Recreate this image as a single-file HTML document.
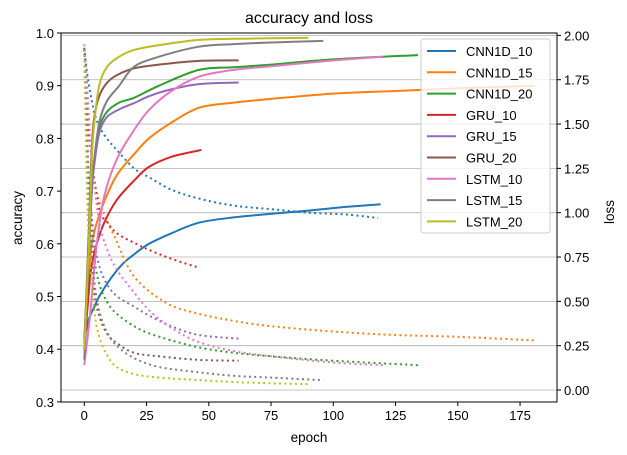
<!DOCTYPE html>
<html><head><meta charset="utf-8"><style>
html,body{margin:0;padding:0;background:#fff;}
svg{display:block;font-family:"Liberation Sans","DejaVu Sans",sans-serif;}
</style></head><body>
<svg id="chart" width="627" height="455" viewBox="0 0 627 455" xmlns="http://www.w3.org/2000/svg">
<rect x="0" y="0" width="627" height="455" fill="#fff"/>
<text x="309" y="23" font-size="16" text-anchor="middle">accuracy and loss</text>
<g id="grid"></g><g id="series"></g><g id="axes"></g><g id="legend"></g>
<text x="309" y="442" font-size="13.5" text-anchor="middle">epoch</text>
<text transform="translate(22,218) rotate(-90)" font-size="13.5" text-anchor="middle">accuracy</text>
<text transform="translate(614,212) rotate(-90)" font-size="13.5" text-anchor="middle">loss</text>
</svg>
<script>
const names=["CNN1D_10","CNN1D_15","CNN1D_20","GRU_10","GRU_15","GRU_20","LSTM_10","LSTM_15","LSTM_20"];
const colors=["#1f77b4","#ff7f0e","#2ca02c","#d62728","#9467bd","#8c564b","#e377c2","#7f7f7f","#bcbd22"];
const xTicks=[0,25,50,75,100,125,150,175];
const accTicks=[0.3,0.4,0.5,0.6,0.7,0.8,0.9,1.0];
const lossTicks=[0,0.25,0.5,0.75,1.0,1.25,1.5,1.75,2.0];
const accEpochs=[
[0,1,2,4,6,10,15,20,26,35,46,60,75,90,105,119],
[0,2,3,5,8,13,20,26,35,46,60,75,100,125,150,181],
[0,2,3,4,6,9,14,20,30,46,60,75,100,134],
[0,2,3,5,8,13,20,26,35,47],
[0,2,3,4,6,9,14,20,26,34,46,62],
[0,2,3,4,6,9,13,20,30,46,62],
[0,2,3,5,8,13,20,26,35,46,60,75,100,120],
[0,2,3,4,6,9,14,20,30,46,60,75,96],
[0,2,3,4,6,9,14,20,30,46,60,75,90]];
const accValues=[
[0.42,0.44,0.46,0.48,0.50,0.53,0.56,0.58,0.60,0.62,0.64,0.65,0.657,0.663,0.670,0.675],
[0.40,0.55,0.60,0.64,0.68,0.73,0.77,0.80,0.83,0.858,0.868,0.875,0.885,0.890,0.895,0.900],
[0.42,0.60,0.70,0.76,0.82,0.85,0.868,0.877,0.90,0.93,0.935,0.94,0.95,0.958],
[0.40,0.52,0.56,0.60,0.64,0.683,0.72,0.746,0.765,0.778],
[0.41,0.60,0.70,0.75,0.81,0.84,0.855,0.867,0.88,0.892,0.903,0.906],
[0.40,0.65,0.78,0.84,0.88,0.905,0.92,0.933,0.94,0.947,0.948],
[0.37,0.45,0.50,0.60,0.69,0.76,0.816,0.854,0.89,0.917,0.93,0.937,0.948,0.955],
[0.38,0.60,0.70,0.76,0.83,0.87,0.90,0.936,0.955,0.974,0.979,0.982,0.985],
[0.40,0.62,0.76,0.83,0.90,0.935,0.955,0.968,0.977,0.987,0.989,0.990,0.991]];
const lossEpochs=[
[0,1,3,5,8,12,20,26,35,46,60,75,90,105,118],
[0,1,3,5,9,12,20,33,46,60,75,100,125,150,181],
[0,1,2,4,6,9,13,20,26,35,46,60,75,100,134],
[0,1,3,6,9,13,20,26,35,46],
[0,1,2,4,6,9,13,20,26,35,46,62],
[0,1,2,4,6,9,13,20,30,46,62],
[0,1,3,6,9,13,20,26,35,46,60,75,100,120],
[0,1,2,4,6,9,13,20,30,46,60,75,96],
[0,1,2,4,6,9,13,20,30,46,60,75,90]];
const lossValues=[
[1.93,1.80,1.63,1.52,1.44,1.37,1.25,1.20,1.13,1.08,1.04,1.02,1.00,0.99,0.97],
[1.92,1.70,1.30,1.11,0.96,0.87,0.64,0.49,0.43,0.39,0.36,0.33,0.31,0.30,0.28],
[1.92,1.50,1.10,0.75,0.60,0.50,0.43,0.36,0.32,0.28,0.24,0.21,0.19,0.165,0.14],
[1.92,1.60,1.30,1.02,0.95,0.885,0.83,0.79,0.74,0.69],
[1.92,1.50,1.15,0.85,0.70,0.60,0.53,0.47,0.42,0.36,0.31,0.29],
[1.92,1.30,0.90,0.55,0.42,0.32,0.265,0.21,0.19,0.17,0.165],
[1.95,1.75,1.30,0.95,0.80,0.68,0.55,0.45,0.35,0.27,0.22,0.19,0.155,0.14],
[1.92,1.40,1.00,0.62,0.45,0.33,0.25,0.18,0.13,0.10,0.08,0.07,0.055],
[1.92,1.20,0.80,0.45,0.30,0.20,0.13,0.09,0.07,0.056,0.045,0.038,0.033]];

const L=61,R=557,T=33,B=402;
const xS=e=>84.3+e*2.49;
const aS=a=>33+(1-a)*527;
const lS=v=>390-v*177.3;
const NS="http://www.w3.org/2000/svg";
function mk(tag,attrs,parent){const el=document.createElementNS(NS,tag);for(const k in attrs)el.setAttribute(k,attrs[k]);parent.appendChild(el);return el;}
// smooth path through points (Catmull-Rom rendered as cubic Beziers)
function smooth(pts){let d='M'+pts[0][0].toFixed(1)+','+pts[0][1].toFixed(1);
  for(let i=0;i<pts.length-1;i++){const p0=pts[Math.max(0,i-1)],p1=pts[i],p2=pts[i+1],p3=pts[Math.min(pts.length-1,i+2)];
    const c1=[p1[0]+(p2[0]-p0[0])/6,p1[1]+(p2[1]-p0[1])/6],c2=[p2[0]-(p3[0]-p1[0])/6,p2[1]-(p3[1]-p1[1])/6];
    d+=' C'+c1[0].toFixed(1)+','+c1[1].toFixed(1)+' '+c2[0].toFixed(1)+','+c2[1].toFixed(1)+' '+p2[0].toFixed(1)+','+p2[1].toFixed(1);}
  return d;}
const grid=document.getElementById('grid'),series=document.getElementById('series'),axes=document.getElementById('axes'),legend=document.getElementById('legend');
lossTicks.forEach(v=>{const g=mk('line',{x1:L,x2:R,y1:lS(v),y2:lS(v),stroke:'#b0b0b0','stroke-width':0.8},grid);

});
names.forEach((n,i)=>{
  const pa=accEpochs[i].map((e,j)=>[xS(e),aS(accValues[i][j])]);
  const p1=mk('path',{d:smooth(pa),fill:'none',stroke:colors[i],'stroke-width':2,'stroke-linejoin':'round'},series);
  
  
  const pl=lossEpochs[i].map((e,j)=>[xS(e),lS(lossValues[i][j])]);
  const p2=mk('path',{d:smooth(pl),fill:'none',stroke:colors[i],'stroke-width':2,'stroke-dasharray':'2,3.3'},series);
  
  
});
const frame=mk('rect',{x:L,y:T,width:R-L,height:B-T,fill:'none',stroke:'#000','stroke-width':1},axes);


xTicks.forEach(v=>{const x=xS(v);mk('line',{x1:x,x2:x,y1:B,y2:B+4,stroke:'#000'},axes);
const t=mk('text',{x:x,y:B+18,'font-size':13,'text-anchor':'middle'},axes);t.textContent=v;

});
accTicks.forEach(v=>{const y=aS(v);mk('line',{x1:L-4,x2:L,y1:y,y2:y,stroke:'#000'},axes);
const t=mk('text',{x:L-7,y:y+5,'font-size':13,'text-anchor':'end'},axes);t.textContent=v.toFixed(1);

});
lossTicks.forEach(v=>{const y=lS(v);mk('line',{x1:R,x2:R+4,y1:y,y2:y,stroke:'#000'},axes);
const t=mk('text',{x:R+7,y:y+5,'font-size':13,'text-anchor':'start'},axes);t.textContent=v.toFixed(2);

});
const box=mk('rect',{x:421,y:39,width:129,height:194,rx:3,fill:'#fff','fill-opacity':0.8,stroke:'#ccc'},legend);


names.forEach((n,i)=>{const y=51+i*21.3;
const g=mk('g',{},legend);


mk('line',{x1:427,x2:456,y1:y,y2:y,stroke:colors[i],'stroke-width':2},g);
const t=mk('text',{x:466,y:y+5,'font-size':13},g);t.textContent=n;});
</script>
</body></html>
